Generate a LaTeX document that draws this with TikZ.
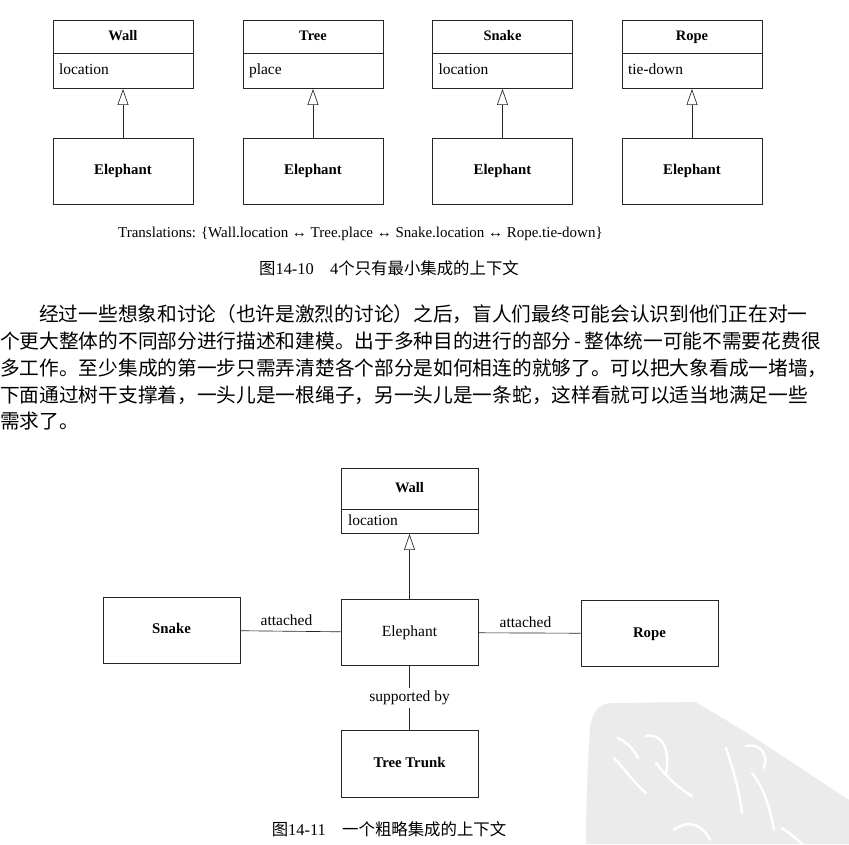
\documentclass[tikz,border=0pt]{standalone}
\usepackage{fontspec}
\setmainfont{Liberation Serif}
\newfontfamily\cjk{Noto Sans CJK SC}
\usetikzlibrary{arrows.meta}
\tikzset{
  lw/.style={line width=0.65pt, draw=black!85},
  namebox/.style={draw, lw, minimum width=140pt, minimum height=33pt, inner sep=0pt, text height=10pt, text depth=3pt, font=\fontsize{14.5}{16}\selectfont\bfseries},
  attrbox/.style={draw, lw, minimum width=140pt, minimum height=35pt, inner sep=0pt, text width=128pt, text height=10pt, text depth=3pt, align=left, font=\fontsize{15.5}{17}\selectfont},
  elbox/.style={draw, lw, minimum width=140pt, minimum height=66pt, inner sep=0pt, text height=10pt, text depth=3pt, font=\fontsize{14.8}{16}\selectfont\bfseries},
  bbox/.style={draw, lw, minimum width=137pt, minimum height=66pt, inner sep=0pt, text height=10pt, text depth=3pt, font=\fontsize{14.8}{16}\selectfont\bfseries},
  gen/.style={lw, -{Triangle[open, length=16pt, width=11pt, line width=0.65pt]}},
  assoc/.style={lw},
  lbl/.style={font=\fontsize{15.5}{17}\selectfont, inner sep=1pt},
  para/.style={anchor=west, inner sep=0pt, font=\cjk\fontsize{19.7}{19.7}\selectfont},
  figcap/.style={inner sep=0pt, font=\fontsize{16.4}{17}\selectfont}
}
\begin{document}
\begin{tikzpicture}[x=1pt, y=-1pt]
\useasboundingbox (0,0) rectangle (849,844);
\fill[white] (0,0) rectangle (849,844);
% watermark
\fill[black!8] (586,844) .. controls (586,800) and (588,760) .. (590,728) .. controls (592,712) and (598,704) .. (612,703) -- (695,702) .. controls (745,730) and (800,768) .. (849,800) -- (849,844) -- cycle;
\begin{scope}[white, line width=2.4pt, line cap=round]
  \draw (618,738) .. controls (628,743) and (634,750) .. (638,758);
  \draw (614,758) .. controls (624,768) and (634,783) .. (646,793);
  \draw (646,736) .. controls (661,733) and (671,748) .. (666,773);
  \draw (656,763) .. controls (666,776) and (678,788) .. (692,796);
  \draw (726,748) .. controls (732,766) and (739,788) .. (742,813);
  \draw (746,746) .. controls (759,743) and (769,753) .. (764,768);
  \draw (752,773) .. controls (764,788) and (770,808) .. (774,830);
  \draw (674,830) .. controls (689,818) and (704,826) .. (710,840);
  \draw (782,828) .. controls (789,833) and (796,838) .. (802,844);
\end{scope}

% ---------- Figure 14-10 ----------
\foreach \n/\x/\c/\a in {1/123/Wall/location, 2/313/Tree/place, 3/502.5/Snake/location, 4/692/Rope/tie-down}{
  \node[namebox] (cn\n) at (\x,36.5) {\c};
  \node[attrbox, anchor=north] (ca\n) at (cn\n.south) {\a};
  \node[elbox] (el\n) at (\x,171) {Elephant};
  \draw[gen] (el\n) -- (ca\n);
}
\node[lbl, anchor=west, font=\fontsize{15}{17}\selectfont] (tr) at (117,234) {Translations: \{Wall.location ↔ Tree.place ↔ Snake.location ↔ Rope.tie-down\}};
\node[figcap] (cap1) at (389,268) {{\cjk 图}14-10\hspace{1em}4{\cjk 个只有最小集成的上下文}};

% ---------- paragraph ----------
\node[para] (p1) at (39,314.5) {经过一些想象和讨论（也许是激烈的讨论）之后，盲人们最终可能会认识到他们正在对一};
\node[para] (p2) at (0,341.3) {个更大整体的不同部分进行描述和建模。出于多种目的进行的部分\kern3pt-\kern3pt 整体统一可能不需要花费很};
\node[para] (p3) at (0,368) {多工作。至少集成的第一步只需弄清楚各个部分是如何相连的就够了。可以把大象看成一堵墙，};
\node[para] (p4) at (0,394.8) {下面通过树干支撑着，一头儿是一根绳子，另一头儿是一条蛇，这样看就可以适当地满足一些};
\node[para] (p5) at (0,421.5) {需求了。};

% ---------- Figure 14-11 ----------
\node[namebox, minimum width=137pt, minimum height=41pt] (wn) at (409.5,488.5) {Wall};
\node[attrbox, minimum width=137pt, minimum height=24pt, text width=123pt, anchor=north] (wa) at (wn.south) {location};
\node[bbox, font=\fontsize{15.5}{17}\selectfont] (el) at (409.5,632.5) {Elephant};
\node[bbox] (sn) at (171.5,630) {Snake};
\node[bbox] (rp) at (649.5,633.5) {Rope};
\node[bbox, minimum height=67pt] (tt) at (409.5,763.5) {Tree Trunk};
\draw[gen] (el) -- (wa);
\draw[assoc] (sn) -- node[lbl, above=4pt, xshift=-4pt] {attached} (el);
\draw[assoc] (el) -- node[lbl, above=4pt, xshift=-4pt] {attached} (rp);
\draw[assoc] (el) -- node[lbl, fill=white, inner sep=3pt] {supported by} (tt);
\node[figcap] (cap2) at (389,829) {{\cjk 图}14-11\hspace{1em}{\cjk 一个粗略集成的上下文}};
\end{tikzpicture}
\end{document}
